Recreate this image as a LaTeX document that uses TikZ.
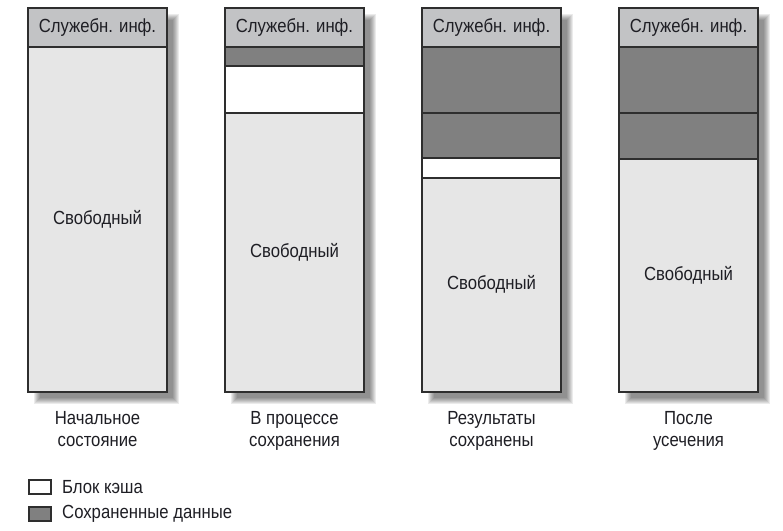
\documentclass[tikz,border=0pt]{standalone}
\usepackage{fontspec}
\setmainfont{Liberation Sans}[FakeStretch=0.88]
\definecolor{hdrgray}{HTML}{C2C3C5}
\definecolor{freegray}{HTML}{E6E6E6}
\definecolor{savedgray}{HTML}{808080}
\definecolor{edge}{HTML}{2E2E2E}
\definecolor{ink}{HTML}{1E1E24}
\tikzset{
  cell/.style={draw=edge, line width=1.3pt},
  hdr/.style={cell, fill=hdrgray},
  free/.style={cell, fill=freegray},
  saved/.style={cell, fill=savedgray},
  cache/.style={cell, fill=white},
  lbl/.style={text=ink, font=\fontsize{19}{22}\selectfont, inner sep=0pt},
  caption/.style={lbl, align=center, anchor=north},
}
% soft drop shadow behind a column: #1 = left x, #2 = right x, #3 = top y, #4 = bottom y
\newcommand{\colshadow}[4]{%
  \foreach \k in {0,...,6}{%
    \fill[black, opacity=0.08]
      ({#1+6+\k}, {#3+6+\k}) rectangle ({#2+12-\k}, {#4+12-\k});
  }%
}
\begin{document}
\begin{tikzpicture}[x=1pt, y=-1pt]
\useasboundingbox (0,0) rectangle (783,530);

% shadows
\colshadow{28}{167}{8}{392}
\colshadow{225}{364}{8}{392}
\colshadow{422}{561}{8}{392}
\colshadow{619}{758}{8}{392}

% column 1: initial state
\draw[free] (28,47) rectangle (167,392);
\draw[hdr] (28,8) rectangle (167,47);
\node[lbl] (h1) at (97.5,28) {Служебн. инф.};
\node[lbl] (f1) at (97.5,219) {Свободный};
\node[caption] (c1) at (97.5,411) {Начальное\\состояние};

% column 2: saving in progress
\draw[free] (225,113) rectangle (364,392);
\draw[cache] (225,66) rectangle (364,113);
\draw[saved] (225,47) rectangle (364,66);
\draw[hdr] (225,8) rectangle (364,47);
\node[lbl] (h2) at (294.5,28) {Служебн. инф.};
\node[lbl] (f2) at (294.5,252) {Свободный};
\node[caption] (c2) at (294.5,411) {В процессе\\сохранения};

% column 3: results saved
\draw[free] (422,178) rectangle (561,392);
\draw[cache] (422,158) rectangle (561,178);
\draw[saved] (422,113) rectangle (561,158);
\draw[saved] (422,47) rectangle (561,113);
\draw[hdr] (422,8) rectangle (561,47);
\node[lbl] (h3) at (491.5,28) {Служебн. инф.};
\node[lbl] (f3) at (491.5,284) {Свободный};
\node[caption] (c3) at (491.5,411) {Результаты\\сохранены};

% column 4: after truncation
\draw[free] (619,159) rectangle (758,392);
\draw[saved] (619,113) rectangle (758,159);
\draw[saved] (619,47) rectangle (758,113);
\draw[hdr] (619,8) rectangle (758,47);
\node[lbl] (h4) at (688.5,28) {Служебн. инф.};
\node[lbl] (f4) at (688.5,275) {Свободный};
\node[caption] (c4) at (688.5,411) {После\\усечения};

% legend
\draw[cache] (29,480) rectangle (51,494);
\node[lbl, anchor=west] (l1) at (62,487) {Блок кэша};
\draw[saved] (29,507) rectangle (51,521);
\node[lbl, anchor=west] (l2) at (62,514) {Сохраненные данные};
\end{tikzpicture}
\end{document}
